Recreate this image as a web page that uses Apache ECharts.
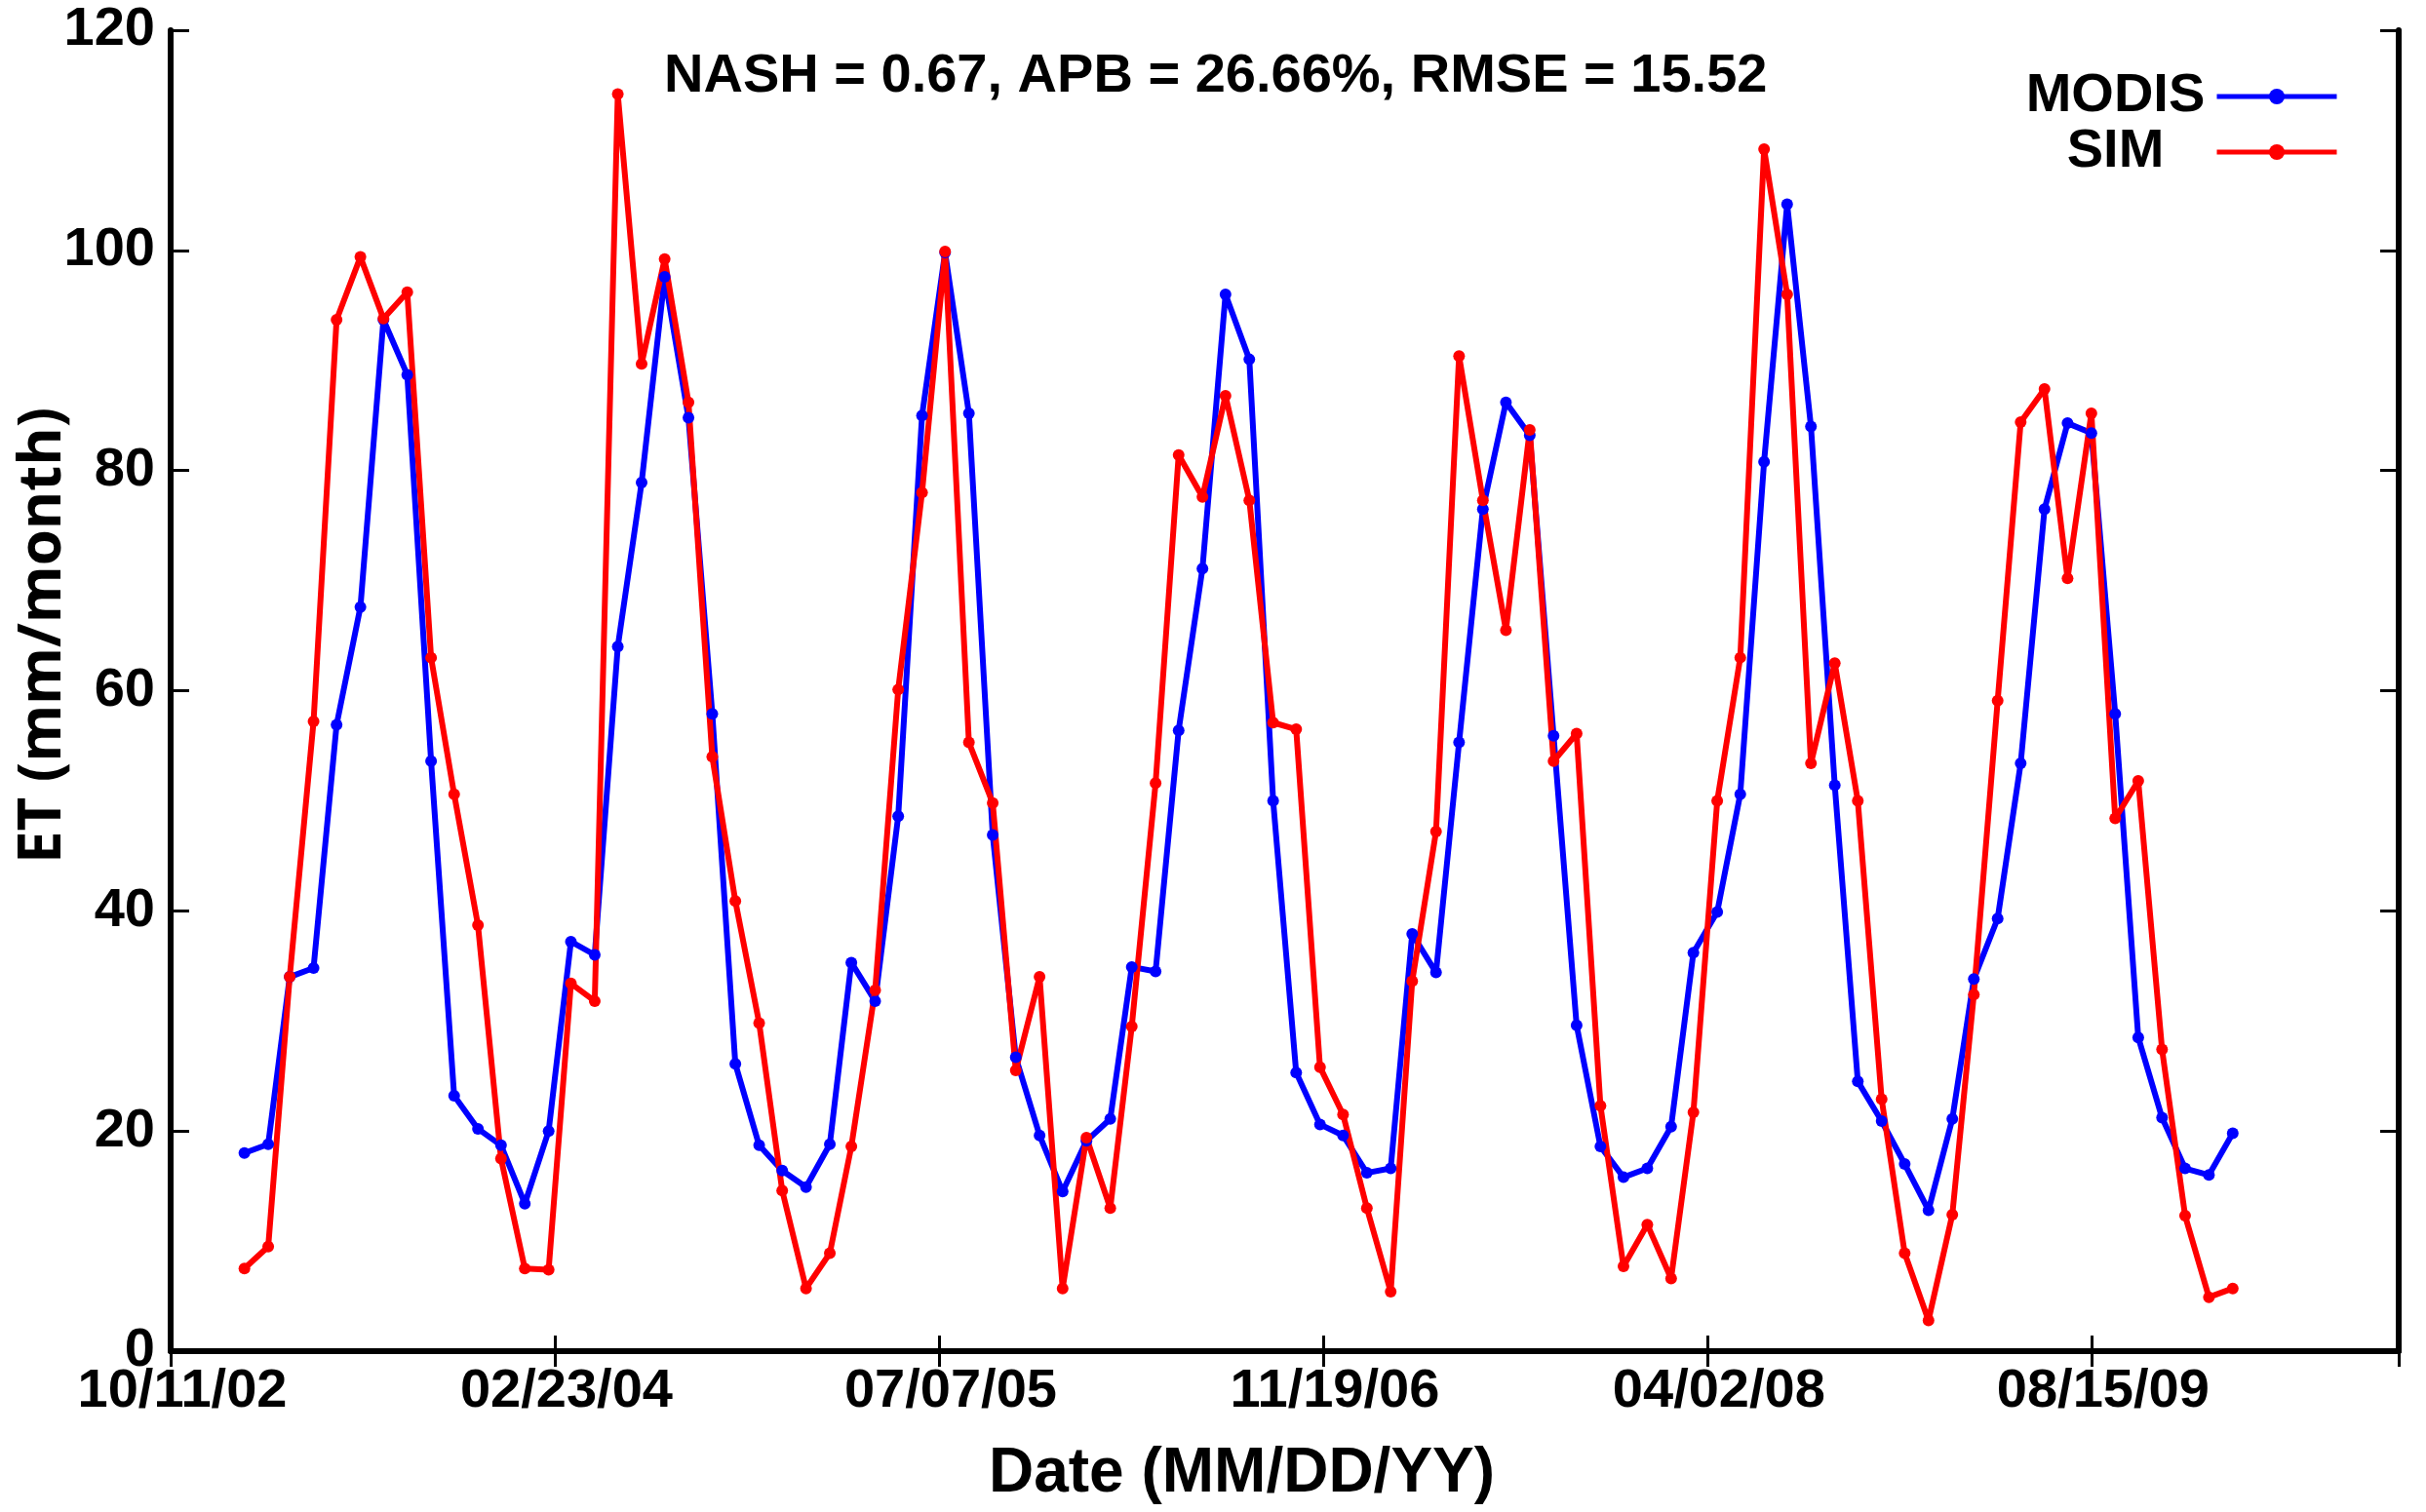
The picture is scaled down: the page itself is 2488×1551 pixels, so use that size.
<!DOCTYPE html>
<html>
<head>
<meta charset="utf-8">
<script src="https://cdn.jsdelivr.net/npm/echarts@6/dist/echarts.min.js"></script>
<style>
html,body{margin:0;padding:0;background:#fff;}
#chart{width:2488px;height:1551px;}
</style>
</head>
<body>
<div id="chart"></div>
<script>
// Monthly observations, Jan 2003 – Feb 2010 (mid-month)
const startYear = 2003, startMonth = 1, nMonths = 86, dayOfMonth = 15;

const modis = [18.0, 18.8, 34.0, 34.8, 56.9, 67.6, 93.7, 88.7, 53.6, 23.2, 20.2, 18.7, 13.4, 20.0, 37.2,
  36.0, 64.0, 78.9, 97.6, 84.8, 57.9, 26.1, 18.7, 16.4, 14.9, 18.8, 35.3, 31.8, 48.6, 85.0, 99.8, 85.2,
  46.9, 26.7, 19.6, 14.5, 19.1, 21.1, 34.9, 34.5, 56.4, 71.1, 96.0, 90.1, 50.0, 25.3, 20.6, 19.6,
  16.2, 16.6, 37.9, 34.4, 55.3, 76.5, 86.2, 83.2, 55.9, 29.6, 18.6, 15.8, 16.6, 20.4, 36.2, 39.9, 50.6,
  80.8, 104.2, 84.0, 51.4, 24.5, 20.9, 17.0, 12.8, 21.1, 33.8, 39.3, 53.4, 76.5, 84.3, 83.4, 57.9, 28.5, 21.2, 16.6, 16.0, 19.8];

const sim = [7.5, 9.5, 34.0, 57.2, 93.7, 99.4, 93.8, 96.2, 63.0, 50.6, 38.7, 17.5, 7.5, 7.4, 33.4,
  31.8, 114.2, 89.7, 99.2, 86.2, 54.0, 40.9, 29.8, 14.6, 5.7, 8.9, 18.6, 32.8, 60.1, 78.0, 99.9, 55.3,
  49.8, 25.5, 34.0, 5.7, 19.4, 13.0, 29.5, 51.6, 81.4, 77.6, 86.8, 77.3, 57.1, 56.5, 25.8, 21.5,
  13.0, 5.4, 33.6, 47.2, 90.4, 77.3, 65.5, 83.7, 53.6, 56.1, 22.3, 7.7, 11.5, 6.6, 21.7, 50.0, 63.0,
  109.2, 96.0, 53.4, 62.5, 50.0, 22.9, 8.9, 2.8, 12.4, 32.4, 59.1, 84.4, 87.4, 70.2, 85.2, 48.4, 51.8, 27.4, 12.3, 4.9, 5.7];

// x axis in day numbers (datenum style), ticks every 500 days from 10/11/02
const xMin = 731500, xMax = 734400, xInterval = 500;
const xTickLabels = ['10/11/02', '02/23/04', '07/07/05', '11/19/06', '04/02/08', '08/15/09'];
const seriesNames = ['MODIS', 'SIM'];
const statsText = 'NASH = 0.67, APB = 26.66%, RMSE = 15.52';

function datenum(y, m, d) { return Date.UTC(y, m - 1, d) / 86400000 + 719529; }
const dates = [];
for (let i = 0; i < nMonths; i++) {
  const mm = startMonth - 1 + i;
  dates.push(datenum(startYear + Math.floor(mm / 12), (mm % 12) + 1, dayOfMonth));
}
const modisData = modis.map((v, i) => [dates[i], v]);
const simData = sim.map((v, i) => [dates[i], v]);

const ARIAL = "'Liberation Sans', Arial, Helvetica, sans-serif";
const chart = echarts.init(document.getElementById('chart'));

const frameAxisX = {
  type: 'value', min: xMin, max: xMax, interval: xInterval,
  splitLine: { show: false }
};
const frameAxisY = {
  type: 'value', min: 0, max: 120, interval: 20,
  splitLine: { show: false }
};

chart.setOption({
  backgroundColor: '#fff',
  animation: false,
  title: {
    text: statsText,
    left: 676, top: 46,
    textStyle: { fontFamily: ARIAL, fontWeight: 'bold', fontSize: 56, color: '#000' }
  },
  legend: {
    data: seriesNames,
    orient: 'vertical',
    align: 'right',
    right: 84, top: 66,
    itemWidth: 123, itemHeight: 20, itemGap: 1,
    lineStyle: { width: 5 },
    formatter: '{t|{name}}',
    textStyle: {
      fontFamily: ARIAL, fontWeight: 'bold', fontSize: 56, color: '#000',
      rich: { t: { width: 198, align: 'center', fontFamily: ARIAL, fontWeight: 'bold', fontSize: 56, color: '#000' } }
    }
  },
  grid: { left: 175, top: 31, right: 28, bottom: 165, outerBoundsMode: 'none', containLabel: false },
  xAxis: [
    Object.assign({}, frameAxisX, {
      position: 'bottom',
      name: 'Date (MM/DD/YY)', nameLocation: 'middle', nameGap: 94, nameMoveOverlap: false,
      nameTextStyle: { fontFamily: ARIAL, fontWeight: 'bold', fontSize: 64, color: '#000', padding: [0, 88, 0, 0] },
      axisLine: { lineStyle: { color: '#000', width: 6 } },
      axisTick: { inside: true, length: 16, lineStyle: { color: '#000', width: 3 } },
      axisLabel: {
        margin: 14, fontFamily: ARIAL, fontWeight: 'bold', fontSize: 56, color: '#000',
        padding: [0, 0, 0, 24],
        formatter: v => { const k = Math.round((v - xMin) / xInterval); return (v - xMin) % xInterval === 0 && xTickLabels[k] ? xTickLabels[k] : ''; }
      }
    }),
    Object.assign({}, frameAxisX, {
      position: 'top',
      axisLine: { lineStyle: { color: '#000', width: 5 } },
      axisTick: { inside: true, length: 16, lineStyle: { color: '#000', width: 3 } },
      axisLabel: { show: false }
    })
  ],
  yAxis: [
    Object.assign({}, frameAxisY, {
      position: 'left',
      name: 'ET (mm/month)', nameLocation: 'middle', nameGap: 100, nameRotate: 90, nameMoveOverlap: false,
      nameTextStyle: { fontFamily: "'Open Sans', sans-serif", fontWeight: 'bold', fontSize: 60, color: '#000', padding: [0, 0, 0, 113] },
      axisLine: { lineStyle: { color: '#000', width: 6 } },
      axisTick: { inside: true, length: 19, lineStyle: { color: '#000', width: 3 } },
      axisLabel: { margin: 16, fontFamily: ARIAL, fontWeight: 'bold', fontSize: 56, color: '#000' }
    }),
    Object.assign({}, frameAxisY, {
      position: 'right',
      axisLine: { lineStyle: { color: '#000', width: 6 } },
      axisTick: { inside: true, length: 19, lineStyle: { color: '#000', width: 3 } },
      axisLabel: { show: false }
    })
  ],
  series: [
    {
      name: seriesNames[0], type: 'line', data: modisData,
      xAxisIndex: 0, yAxisIndex: 0,
      symbol: 'circle', symbolSize: 12, showAllSymbol: true,
      lineStyle: { color: '#0000ff', width: 6 },
      itemStyle: { color: '#0000ff' }
    },
    {
      name: seriesNames[1], type: 'line', data: simData,
      xAxisIndex: 0, yAxisIndex: 0,
      symbol: 'circle', symbolSize: 12, showAllSymbol: true,
      lineStyle: { color: '#ff0000', width: 6 },
      itemStyle: { color: '#ff0000' }
    }
  ]
});
</script>
</body>
</html>
